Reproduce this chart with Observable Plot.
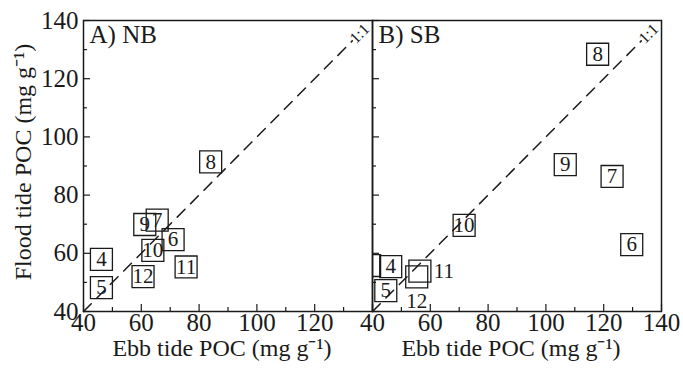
<!DOCTYPE html>
<html><head><meta charset="utf-8">
<script src="https://cdn.jsdelivr.net/npm/d3@7"></script>
<script src="https://cdn.jsdelivr.net/npm/@observablehq/plot@0.6"></script>
<style>
body{margin:0;background:#fff;}
#chart svg, #chart svg text{font-family:"Liberation Serif","Times New Roman",serif !important;}
</style>
</head><body><div id="chart"></div>
<script>
const panels = ["A) NB", "B) SB"];
// Panel A (NB)
const nbLabels = ["4", "5", "6", "7", "8", "9", "10", "11", "12"];
const nbEbb    = [46.2, 46.2, 71, 65.5, 84, 61.2, 64, 75.5, 60.6];
const nbFlood  = [57.9, 48.2, 64.7, 71.4, 91.4, 69.9, 61, 55.3, 52];
// Panel B (SB)
const sbLabels = ["", "4", "5", "6", "7", "8", "9", "10", "11", "12"];
const sbEbb    = [39, 46.3, 44.6, 129.7, 122.9, 117.9, 106.7, 71.7, 56.4, 55.3];
const sbFlood  = [55.8, 55.4, 47.2, 63, 86.4, 128.4, 90.5, 69.6, 53.9, 51.9];

const majorTicks = [40, 60, 80, 100, 120, 140];
const minorTicks = [50, 70, 90, 110, 130];
const xTickLabelsA = [40, 60, 80, 100, 120];
const xTickLabelsB = [40, 60, 80, 100, 120, 140];
const oneToOne = [40, 133];
const oneToOneLabel = {label: "1:1", at: 135.5};
const xTitle = "Ebb tide POC (mg g\u207B\u00B9)";
const yTitle = "Flood tide POC (mg g\u207B\u00B9)";

const points = [
  ...nbLabels.map((label, i) => ({panel: panels[0], label, ebb: nbEbb[i], flood: nbFlood[i]})),
  ...sbLabels.map((label, i) => ({panel: panels[1], label, ebb: sbEbb[i], flood: sbFlood[i]}))
];
const xTickRows = [
  ...xTickLabelsA.map(value => ({panel: panels[0], value})),
  ...xTickLabelsB.map(value => ({panel: panels[1], value}))
];
const isSB = d => d.panel === panels[1];
const ink = "#1a1a1a";

const chart = Plot.plot({
  width: 683, height: 368,
  marginLeft: 83, marginRight: 22, marginTop: 20, marginBottom: 57,
  style: {fontSize: "24px", fontFamily: "Liberation Serif, serif", color: ink, background: "#fff"},
  fx: {domain: panels, padding: 0, axis: null},
  x: {domain: [40, 140]},
  y: {domain: [40, 140]},
  marks: [
    Plot.line(oneToOne, {x: d => d, y: d => d, stroke: ink, strokeWidth: 1.5, strokeDasharray: "11,8"}),
    Plot.text([oneToOneLabel], {x: "at", y: "at", text: "label", rotate: -45, fontSize: 16, fill: ink}),
    Plot.dot(points, {fx: "panel", x: "ebb", y: "flood", symbol: "square", r: 12.4, stroke: ink, strokeWidth: 1.3, fill: "none", clip: "frame"}),
    Plot.text(points, {filter: d => !(isSB(d) && (d.label === "11" || d.label === "12")), fx: "panel", x: "ebb", y: "flood", text: "label", fontSize: 21, fill: ink, clip: "frame"}),
    Plot.text(points, {filter: d => isSB(d) && d.label === "11", fx: "panel", x: "ebb", y: "flood", text: "label", dx: 24, fontSize: 21, fill: ink}),
    Plot.text(points, {filter: d => isSB(d) && d.label === "12", fx: "panel", x: "ebb", y: "flood", text: "label", dy: 24, fontSize: 21, fill: ink}),
    Plot.axisX(majorTicks, {tickSize: -7, fill: "none", label: null, facetAnchor: null, stroke: ink, strokeWidth: 1.2}),
    Plot.axisX(minorTicks, {tickSize: -4, fill: "none", label: null, facetAnchor: null, stroke: ink, strokeWidth: 1.2}),
    Plot.axisY(majorTicks, {tickSize: -7, fill: "none", label: null, facetAnchor: null, stroke: ink, strokeWidth: 1.2}),
    Plot.axisY(minorTicks, {tickSize: -4, fill: "none", label: null, facetAnchor: null, stroke: ink, strokeWidth: 1.2}),
    Plot.axisY(majorTicks, {tickSize: 0, tickPadding: 5, label: null, fontSize: 25, fill: ink}),
    Plot.text(xTickRows, {fx: "panel", x: "value", text: d => String(d.value), frameAnchor: "bottom", lineAnchor: "top", dy: 2, fontSize: 25, fill: ink}),
    Plot.text(panels, {fx: d => d, text: d => d, frameAnchor: "top-left", lineAnchor: "top", textAnchor: "start", dx: 6, dy: 5, fontSize: 25, fill: ink}),
    Plot.text(panels, {fx: d => d, text: () => xTitle, frameAnchor: "bottom", lineAnchor: "middle", textAnchor: "middle", dy: 37, dx: -6, fontSize: 24, fill: ink}),
    Plot.text([yTitle], {fx: () => panels[0], text: d => d, frameAnchor: "left", textAnchor: "middle", lineAnchor: "middle", rotate: -90, dx: -60, dy: -4, fontSize: 24, fill: ink}),
    Plot.frame({stroke: ink, strokeWidth: 1.5})
  ]
});
document.getElementById("chart").append(chart);
</script>
</body></html>
